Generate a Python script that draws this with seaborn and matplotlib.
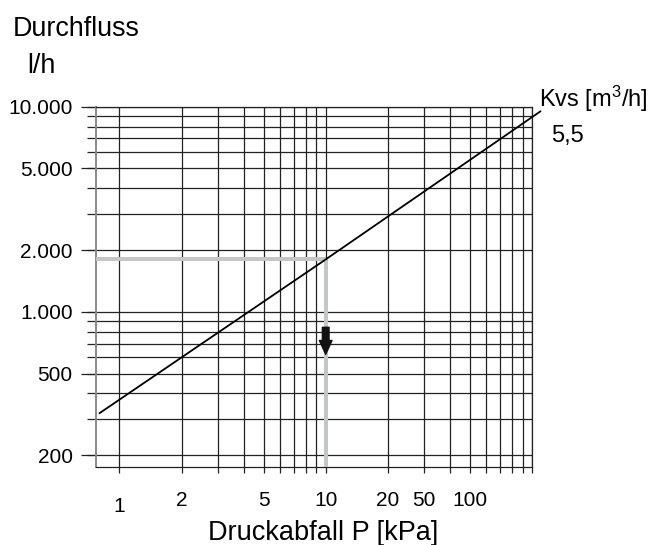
import seaborn as sns
import matplotlib.pyplot as plt
from matplotlib.ticker import FixedLocator, FixedFormatter, NullFormatter
from matplotlib.transforms import ScaledTranslation

# Kennlinie Kvs 5,5 (Druckabfall kPa -> Durchfluss l/h)
kvs_p = [0.8, 10, 110]
kvs_q = [320, 1800, 9500]
kvs_label = 'Kvs [m$^{3}$/h]'
kvs_value = '5,5'

# Ablesebeispiel
mark_p = 10
mark_q = 1800
arrow_q = [840, 620]

# Achsen
x_grid = [1, 2, 3, 4, 5, 6, 7, 8, 9, 10, 20, 30, 40, 50, 60, 70, 80, 90, 100]
x_tick_pos = [1, 2, 5, 10, 20, 30, 50]
x_tick_lab = ['1', '2', '5', '10', '20', '50', '100']
y_grid = [200, 300, 400, 500, 600, 700, 800, 900,
          1000, 2000, 3000, 4000, 5000, 6000, 7000, 8000, 9000, 10000]
y_tick_pos = [200, 500, 1000, 2000, 5000, 10000]
y_tick_lab = ['200', '500', '1.000', '2.000', '5.000', '10.000']

sns.set_style('white')
plt.rcParams['font.family'] = ['Liberation Sans', 'DejaVu Sans']
plt.rcParams['mathtext.fontset'] = 'custom'
plt.rcParams['mathtext.rm'] = 'Liberation Sans'
plt.rcParams['mathtext.default'] = 'regular'
plt.rcParams['text.color'] = 'black'
plt.rcParams['xtick.labelcolor'] = 'black'
plt.rcParams['ytick.labelcolor'] = 'black'

W, H = 654, 545
fig = plt.figure(figsize=(W / 100, H / 100), dpi=100, facecolor='white')
ax = fig.add_axes([96 / W, 1 - 467 / H, 436 / W, 360.3 / H])
ax.set_xscale('log')
ax.set_yscale('log')
ax.set_xlim(0.77, 100)
ax.set_ylim(175, 10000)

gc = '#222222'
ax.xaxis.remove_overlapping_locs = False
ax.yaxis.remove_overlapping_locs = False
ax.xaxis.set_minor_locator(FixedLocator(x_grid))
ax.xaxis.set_minor_formatter(NullFormatter())
ax.xaxis.set_major_locator(FixedLocator(x_tick_pos))
ax.xaxis.set_major_formatter(FixedFormatter(x_tick_lab))
ax.yaxis.set_minor_locator(FixedLocator(y_grid))
ax.yaxis.set_minor_formatter(NullFormatter())
ax.yaxis.set_major_locator(FixedLocator(y_tick_pos))
ax.yaxis.set_major_formatter(FixedFormatter(y_tick_lab))

ax.grid(False)
ax.grid(which='minor', axis='both', color=gc, lw=0.9)
ax.tick_params(axis='x', which='major', length=0, pad=17, labelsize=15,
               labelcolor='black', bottom=True)
ax.tick_params(axis='x', which='minor', length=4.3, width=0.9, color=gc,
               direction='out', bottom=True)
ax.tick_params(axis='y', which='major', length=10.8, width=0.9, color=gc,
               direction='out', pad=6, labelsize=15, labelcolor='black', left=True)
ax.tick_params(axis='y', which='minor', length=6.5, width=0.9, color=gc,
               direction='out', left=True)

for side in ['top', 'right', 'bottom']:
    ax.spines[side].set_color(gc)
    ax.spines[side].set_linewidth(0.9)
ax.spines['left'].set_color('#8a8a8a')
ax.spines['left'].set_linewidth(1.4)

# "1" sitzt etwas tiefer
for lab in ax.get_xticklabels():
    if lab.get_text() == '1':
        lab.set_transform(lab.get_transform() + ScaledTranslation(0, -6 / 100, fig.dpi_scale_trans))

# graue Ablesehilfe
gray = '#c2c6c6'
ax.plot([ax.get_xlim()[0], mark_p], [mark_q, mark_q], color=gray, lw=2.9,
        solid_capstyle='butt', zorder=3)
ax.plot([mark_p, mark_p], [mark_q, ax.get_ylim()[0]], color=gray, lw=2.9,
        solid_capstyle='butt', zorder=3)

sns.lineplot(x=kvs_p, y=kvs_q, color='black', lw=1.3, ax=ax, clip_on=False, zorder=4)

ax.annotate('', xy=(mark_p, arrow_q[1]), xytext=(mark_p, arrow_q[0]),
            arrowprops=dict(arrowstyle='simple,head_width=0.91,head_length=1.0,tail_width=0.48',
                            mutation_scale=10, color='#111111', shrinkA=0, shrinkB=0),
            zorder=5)

fig.text(12.7 / W, 1 - 36 / H, 'Durchfluss', fontsize=19.4, va='baseline', ha='left')
fig.text(27.3 / W, 1 - 72.7 / H, 'l/h', fontsize=19.4, va='baseline', ha='left')
fig.text(539 / W, 1 - 107.3 / H, kvs_label, fontsize=17, va='baseline', ha='left')
fig.text(551 / W, 1 - 141.7 / H, kvs_value, fontsize=17, va='baseline', ha='left')
fig.text(323 / W, 1 - 539.5 / H, 'Druckabfall P [kPa]', fontsize=19.5, va='baseline', ha='center')

fig.savefig('out.png', dpi=100, facecolor='white')
